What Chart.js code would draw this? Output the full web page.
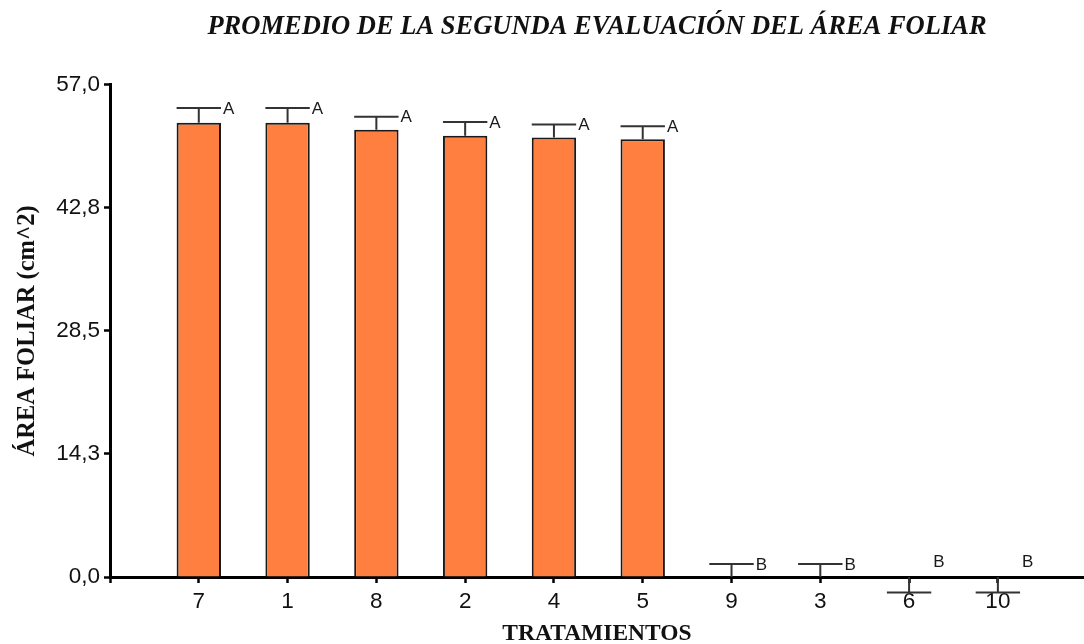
<!DOCTYPE html>
<html>
<head>
<meta charset="utf-8">
<title>Área foliar - segunda evaluación</title>
<script src="https://cdn.jsdelivr.net/npm/chart.js@4.4.1/dist/chart.umd.min.js"></script>
<style>
  html, body { margin: 0; padding: 0; background: #fff; }
  canvas { display: block; }
</style>
</head>
<body>
<canvas id="areaChart" width="1084" height="644"></canvas>
<script>
// Treatments, ordered by mean
const tratamientos = ['7', '1', '8', '2', '4', '5', '9', '3', '6', '10'];
// Mean leaf area (cm^2)
const promedios = [52.6, 52.6, 51.8, 51.1, 50.9, 50.7, 0, 0, 0, 0];
// Error bar length (negative ones are drawn downwards)
const errores = [1.7, 1.7, 1.5, 1.6, 1.5, 1.5, 1.5, 1.5, -1.8, -1.8];
// Tukey groups
const grupos = ['A', 'A', 'A', 'A', 'A', 'A', 'B', 'B', 'B', 'B'];
// Y axis ticks
const yTickValues = [0, 14.25, 28.5, 42.75, 57];
const yTickLabels = ['0,0', '14,3', '28,5', '42,8', '57,0'];

// treatments sit at positions 1..10 on a numeric x axis
const puntos = tratamientos.map((t, i) => ({ x: i + 1, y: promedios[i] }));

const sansFont = "'Liberation Sans', Arial, sans-serif";
const serifFont = "'Liberation Serif', 'Times New Roman', serif";

// error bars + group letters over each bar
const errorBarsPlugin = {
    id: 'errorBars',
    afterDatasetsDraw(chart) {
        const ctx = chart.ctx;
        const yScale = chart.scales.y;
        const meta = chart.getDatasetMeta(0);
        ctx.save();
        tratamientos.forEach((t, i) => {
            const bar = meta.data[i];
            const half = bar.width / 2;
            const yBase = yScale.getPixelForValue(promedios[i]);
            const yErr = yScale.getPixelForValue(promedios[i] + errores[i]);
            ctx.strokeStyle = '#333';
            ctx.lineWidth = 2;
            ctx.beginPath();
            ctx.moveTo(bar.x, yBase);
            ctx.lineTo(bar.x, yErr);
            ctx.moveTo(bar.x - half, yErr);
            ctx.lineTo(bar.x + half, yErr);
            ctx.stroke();

            const yLetter = yScale.getPixelForValue(promedios[i] + Math.abs(errores[i]));
            ctx.fillStyle = '#1a1a1a';
            ctx.font = '17px ' + sansFont;
            ctx.textAlign = 'left';
            ctx.textBaseline = 'middle';
            ctx.fillText(grupos[i], bar.x + half + 2, yLetter + 1);
        });
        ctx.restore();
    }
};

new Chart(document.getElementById('areaChart'), {
    type: 'bar',
    data: {
        datasets: [{
            label: 'Área foliar',
            data: puntos,
            backgroundColor: '#FF7F40',
            borderColor: '#1a1a1a',
            borderWidth: 2,
            barPercentage: 0.5,
            categoryPercentage: 1.0
        }]
    },
    options: {
        responsive: false,
        animation: false,
        devicePixelRatio: 1,
        layout: { padding: 0 },
        plugins: {
            legend: { display: false },
            tooltip: { enabled: false },
            title: {
                display: true,
                fullSize: false,
                text: 'PROMEDIO DE LA SEGUNDA EVALUACIÓN DEL ÁREA FOLIAR',
                color: '#111',
                font: { family: serifFont, size: 26.5, weight: 'bold', style: 'italic', lineHeight: 1.2 },
                padding: { top: 11, bottom: 42 }
            }
        },
        scales: {
            x: {
                type: 'linear',
                offset: false,
                min: 0,
                max: 10.97,
                afterBuildTicks(scale) {
                    scale.ticks = [0].concat(tratamientos.map((t, i) => i + 1)).map(v => ({ value: v }));
                },
                grid: {
                    offset: false,
                    drawOnChartArea: false,
                    drawTicks: true,
                    tickLength: 6,
                    tickWidth: 2.5,
                    tickColor: '#000'
                },
                border: { color: '#000', width: 3 },
                ticks: {
                    color: '#111',
                    padding: 5,
                    maxRotation: 0,
                    autoSkip: false,
                    font: { family: sansFont, size: 22.5 },
                    callback: (v) => (v >= 1 ? tratamientos[v - 1] : '')
                },
                title: {
                    display: true,
                    text: 'TRATAMIENTOS',
                    color: '#111',
                    font: { family: serifFont, size: 23.5, weight: 'bold', lineHeight: 0.85 },
                    padding: { top: 0, bottom: 0 }
                },
                afterFit(scale) { scale.height = 67; }
            },
            y: {
                min: 0,
                max: 57,
                grid: {
                    drawOnChartArea: false,
                    drawTicks: true,
                    tickLength: 6,
                    tickWidth: 2.5,
                    tickColor: '#000'
                },
                border: { color: '#000', width: 3 },
                afterBuildTicks(scale) {
                    scale.ticks = yTickValues.map(v => ({ value: v }));
                },
                ticks: {
                    color: '#111',
                    padding: 4,
                    font: { family: sansFont, size: 22.5 },
                    callback: (v) => yTickLabels[yTickValues.indexOf(v)]
                },
                title: {
                    display: true,
                    text: 'ÁREA FOLIAR (cm^2)',
                    color: '#111',
                    font: { family: serifFont, size: 24.5, weight: 'bold', lineHeight: 1 },
                    padding: { top: 15, bottom: 0 }
                },
                afterFit(scale) { scale.width = 110; }
            }
        }
    },
    plugins: [errorBarsPlugin]
});
</script>
</body>
</html>
